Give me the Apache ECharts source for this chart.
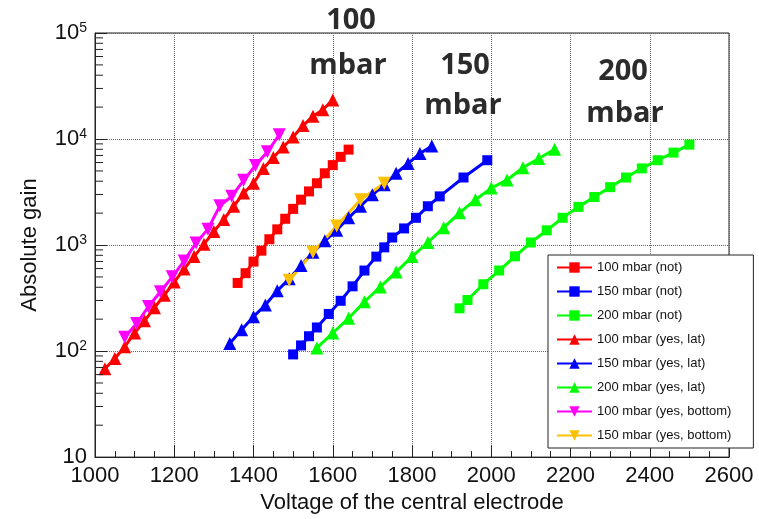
<!DOCTYPE html>
<html><head><meta charset="utf-8">
<script src="https://cdn.jsdelivr.net/npm/echarts@6/dist/echarts.min.js"></script>
<style>html,body{margin:0;padding:0;background:#fff}#c{width:759px;height:519px}</style>
</head><body><div id="c"></div>
<script>
// ---- data ----
const vRedNot   = [1360,1380,1400,1420,1440,1460,1480,1500,1520,1540,1560,1580,1600,1620,1640];
const gRedNot   = [439,543,698,885,1135,1406,1770,2193,2679,3206,3828,4753,5675,6792,7943];
const vBlueNot  = [1500,1520,1540,1560,1590,1620,1650,1680,1710,1730,1750,1780,1810,1840,1870,1930,1990];
const gBlueNot  = [93,113,138,167,224,298,408,575,778,951,1178,1435,1807,2323,2877,4335,6310];
const vGreenNot = [1920,1940,1980,2020,2060,2100,2140,2180,2220,2260,2300,2340,2380,2420,2460,2500];
const gGreenNot = [253,303,427,575,783,1057,1377,1807,2291,2838,3516,4335,5284,6310,7447,8851];
const vRedLat   = [1025,1050,1075,1100,1125,1150,1175,1200,1225,1250,1275,1300,1325,1350,1375,1400,1425,1450,1475,1500,1525,1550,1575,1600];
const gRedLat   = [68,85,110,148,193,256,337,448,596,778,1019,1340,1742,2323,3090,3828,5284,6699,8414,10447,13397,16368,18880,23388];
const vBlueLat  = [1340,1370,1400,1430,1460,1490,1520,1550,1580,1610,1640,1670,1700,1730,1760,1790,1820,1850];
const gBlueLat  = [118,159,211,272,370,481,641,853,1096,1377,1807,2323,2979,3698,4753,5888,7295,8600];
const vGreenLat = [1560,1600,1640,1680,1720,1760,1800,1840,1880,1920,1960,2000,2040,2080,2120,2160];
const gGreenLat = [107,148,204,292,403,556,778,1057,1459,2014,2679,3443,4111,5370,6546,7998];
const vMagBot   = [1075,1105,1135,1165,1195,1225,1255,1285,1315,1345,1375,1405,1435,1465];
const gMagBot   = [135,182,263,363,501,708,1047,1413,2344,2884,4074,5623,7586,10965];
const vYelBot   = [1490,1550,1610,1670,1730];
const gYelBot   = [465,853,1514,2679,3828];
const seriesNames = ['100 mbar (not)','150 mbar (not)','200 mbar (not)','100 mbar (yes, lat)','150 mbar (yes, lat)','200 mbar (yes, lat)','100 mbar (yes, bottom)','150 mbar (yes, bottom)'];
const xTicks = [1000,1200,1400,1600,1800,2000,2200,2400,2600];
const yDecades = [10,100,1000,10000,100000];
const annotations = [['100',351,21],['mbar',348,66],['150',465,66],['mbar',463,106],['200',623,72],['mbar',625,114]];

// ---- build ----
const pairs = (v,g)=>v.map((x,i)=>[x,g[i]]);
const minorY = [];
for (let d=0; d<yDecades.length-1; d++) for (let k=2;k<=9;k++) minorY.push([xTicks[0], yDecades[d]*k]);

function mk(name, v, g, color, sym, size, rot){
  return {name, type:'line', data:pairs(v,g), color,
    symbol:sym, symbolSize:size, symbolRotate:rot||0, showSymbol:true,
    lineStyle:{width:3,color}, itemStyle:{color}, animation:false, z:3};
}
const FONT = '"Liberation Sans", Arial, sans-serif';
const chart = echarts.init(document.getElementById('c'), null, {renderer:'canvas'});
chart.setOption({
  animation:false,
  backgroundColor:'#fff',
  grid:{left:95, top:33, right:30, bottom:57, show:true, borderColor:'#222', borderWidth:1, backgroundColor:'transparent'},
  xAxis:{type:'value', min:xTicks[0], max:xTicks[xTicks.length-1], interval:200,
    name:'Voltage of the central electrode', nameLocation:'middle', nameGap:22,
    nameTextStyle:{fontFamily:FONT, fontSize:22, color:'#111'},
    axisLine:{lineStyle:{color:'#222'}},
    axisTick:{inside:true, length:12, lineStyle:{color:'#222'}},
    minorTick:{show:true, splitNumber:4, length:6, lineStyle:{color:'#222'}},
    axisLabel:{fontFamily:FONT, fontSize:22, color:'#111', margin:8, formatter:function(v){return String(v);}},
    splitLine:{show:true, lineStyle:{type:'dotted', color:'#666', width:1}}},
  yAxis:{type:'log', logBase:10, min:10, max:100000,
    name:'Absolute gain', nameLocation:'middle', nameGap:54,
    nameTextStyle:{fontFamily:FONT, fontSize:22, color:'#111'},
    axisLine:{lineStyle:{color:'#222'}},
    axisTick:{inside:true, length:12, lineStyle:{color:'#222'}},
    axisLabel:{margin:8, color:'#111',
      formatter:function(val){const e=Math.round(Math.log10(val)); return e===1?'{b|10}':'{b|10}{s|'+e+'}';},
      rich:{b:{fontFamily:FONT,fontSize:22,color:'#111'}, s:{fontFamily:FONT,fontSize:14,color:'#111',padding:[0,0,10,0]}}},
    splitLine:{show:true, lineStyle:{type:'dotted', color:'#666', width:1}}},
  legend:{data:seriesNames, orient:'vertical', left:548, top:255,
    backgroundColor:'#fff', borderColor:'#222', borderWidth:1, padding:[6,22,6,8],
    itemWidth:35, itemHeight:13, itemGap:11,
    textStyle:{fontFamily:FONT, fontSize:13, color:'#111'}},
  graphic: annotations.map(t=>({type:'text', x:t[1], y:t[2], z:100, silent:true,
    style:{text:t[0], fontFamily:'"Open Sans", "Noto Sans", sans-serif', fontWeight:'bold', fontSize:29, fill:'#2b2b2b', align:'center', verticalAlign:'middle'}})),
  series:[
    mk(seriesNames[0], vRedNot, gRedNot, '#ff0000', 'rect', 10),
    mk(seriesNames[1], vBlueNot, gBlueNot, '#0000ff', 'rect', 10),
    mk(seriesNames[2], vGreenNot, gGreenNot, '#00ff00', 'rect', 10),
    mk(seriesNames[3], vRedLat, gRedLat, '#ff0000', 'triangle', 13),
    mk(seriesNames[4], vBlueLat, gBlueLat, '#0000ff', 'triangle', 13),
    mk(seriesNames[5], vGreenLat, gGreenLat, '#00ff00', 'triangle', 13),
    mk(seriesNames[6], vMagBot, gMagBot, '#ff00ff', 'triangle', 13, 180),
    mk(seriesNames[7], vYelBot, gYelBot, '#ffc000', 'triangle', 13, 180),
    {name:'minorTicks', type:'custom', data:minorY, silent:true, z:4, clip:false,
      renderItem:function(params, api){
        const p = api.coord([api.value(0), api.value(1)]);
        return {type:'line', shape:{x1:p[0], y1:p[1], x2:p[0]+8, y2:p[1]}, style:{stroke:'#222', lineWidth:1}};
      }}
  ]
});
</script></body></html>
